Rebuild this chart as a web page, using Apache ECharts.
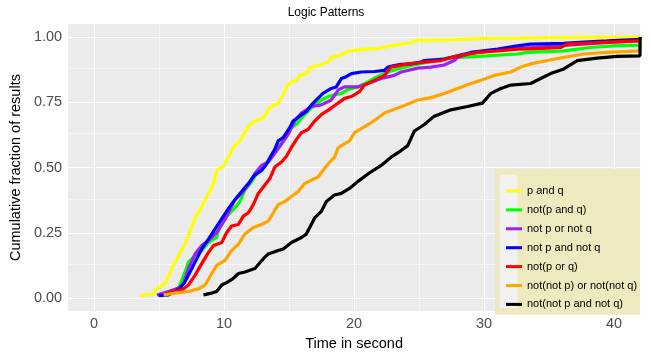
<!DOCTYPE html>
<html>
<head>
<meta charset="utf-8">
<script src="https://cdn.jsdelivr.net/npm/echarts@6/dist/echarts.min.js"></script>
<style>
  html, body { margin: 0; padding: 0; background: #fff; }
  #chart { width: 651px; height: 356px; }
</style>
</head>
<body>
<div id="chart"></div>
<script>
// Cumulative fraction of results over time, one [seconds, fraction] list per pattern
const pAndQ = [[3.55,0.009],[4.58,0.015],[4.70,0.031],[5.08,0.044],[5.47,0.056],[5.98,0.113],[6.50,0.163],[7.00,0.207],[7.38,0.257],[7.77,0.307],[8.28,0.351],[8.80,0.401],[9.18,0.439],[9.43,0.489],[9.95,0.505],[10.33,0.540],[10.71,0.577],[11.22,0.602],[11.60,0.634],[11.99,0.665],[12.37,0.678],[13.01,0.690],[13.40,0.721],[13.65,0.734],[14.16,0.747],[14.54,0.778],[14.80,0.809],[15.18,0.828],[15.57,0.834],[15.82,0.853],[16.33,0.860],[16.59,0.881],[17.23,0.891],[17.99,0.904],[18.25,0.922],[19.02,0.931],[19.53,0.945],[19.79,0.947],[20.8,0.954],[21.83,0.956],[22.85,0.966],[24.39,0.979],[24.9,0.988],[27.2,0.989],[29.75,0.994],[32.3,0.995],[34.9,0.998],[37.4,0.999],[39.98,1.0],[42,1.0]];
const notPAndQ = [[5.35,0.012],[6.5,0.038],[7.0,0.100],[7.26,0.138],[7.77,0.163],[8.28,0.182],[8.8,0.213],[9.43,0.232],[9.56,0.257],[10.07,0.307],[10.71,0.339],[11.22,0.370],[11.6,0.414],[12.12,0.445],[12.5,0.477],[13.14,0.508],[13.65,0.543],[14.16,0.577],[14.67,0.615],[15.18,0.653],[15.57,0.665],[15.95,0.690],[16.46,0.715],[16.97,0.740],[17.48,0.759],[18.0,0.772],[18.5,0.778],[19.02,0.784],[19.53,0.799],[20.3,0.809],[21.07,0.828],[21.57,0.843],[22.6,0.866],[23.37,0.878],[24.39,0.891],[25.67,0.904],[27.2,0.919],[28.09,0.922],[30.27,0.928],[32.57,0.935],[33.33,0.941],[36.14,0.947],[38.17,0.960],[39.98,0.966],[42,0.969],[42,1]];
const notPOrNotQ = [[4.83,0.012],[5.73,0.025],[6.5,0.038],[6.88,0.056],[7.26,0.113],[7.77,0.169],[8.28,0.201],[8.8,0.220],[9.43,0.251],[10.07,0.301],[10.84,0.377],[11.35,0.401],[11.86,0.433],[12.37,0.477],[12.88,0.508],[13.4,0.521],[13.9,0.555],[14.42,0.590],[14.93,0.627],[15.44,0.678],[15.95,0.709],[16.72,0.734],[17.48,0.740],[18.25,0.759],[18.77,0.797],[19.27,0.809],[20.3,0.809],[21.07,0.822],[22.09,0.841],[23.1,0.853],[23.62,0.866],[24.9,0.881],[25.92,0.885],[26.94,0.893],[27.71,0.910],[27.97,0.922],[29.0,0.938],[31.3,0.951],[35.9,0.967],[39.0,0.978],[42,0.986],[42,1]];
const notPAndNotQ = [[4.96,0.009],[5.73,0.012],[6.62,0.038],[7.0,0.063],[7.38,0.100],[7.9,0.151],[8.28,0.188],[8.8,0.226],[9.3,0.264],[9.95,0.314],[10.45,0.351],[10.84,0.377],[11.35,0.408],[11.86,0.439],[12.37,0.471],[12.88,0.489],[13.2,0.508],[13.55,0.540],[13.9,0.570],[14.16,0.602],[14.55,0.615],[15.05,0.653],[15.31,0.678],[15.82,0.697],[16.33,0.715],[16.72,0.740],[17.1,0.759],[17.61,0.784],[18.25,0.803],[18.63,0.809],[19.02,0.841],[19.4,0.848],[19.79,0.860],[20.55,0.866],[21.57,0.868],[22.34,0.872],[22.6,0.885],[23.1,0.891],[23.62,0.895],[24.39,0.897],[25.15,0.904],[25.41,0.910],[26.94,0.916],[27.97,0.928],[28.99,0.941],[31.04,0.954],[32.57,0.966],[33.59,0.973],[36.14,0.976],[37.68,0.981],[39.47,0.985],[42,0.991],[42,1]];
const notPOrQ = [[5.35,0.012],[5.98,0.025],[6.75,0.031],[7.26,0.050],[7.77,0.088],[8.28,0.132],[8.8,0.175],[9.18,0.201],[9.82,0.213],[10.2,0.251],[10.58,0.276],[11.1,0.282],[11.48,0.314],[11.86,0.326],[12.25,0.358],[12.63,0.401],[13.14,0.433],[13.52,0.458],[13.9,0.502],[14.42,0.521],[14.8,0.543],[15.18,0.577],[15.57,0.608],[15.95,0.634],[16.46,0.646],[16.97,0.678],[17.48,0.703],[18.25,0.728],[18.77,0.747],[19.27,0.765],[19.79,0.772],[20.42,0.791],[20.8,0.816],[21.57,0.834],[22.34,0.853],[22.85,0.885],[24.13,0.897],[25.41,0.904],[26.69,0.910],[27.97,0.928],[29.5,0.941],[31.04,0.947],[32.57,0.954],[34.1,0.956],[35.89,0.960],[36.4,0.973],[38.7,0.979],[42,0.985],[42,1]];
const notNotPOrNotNotQ = [[5.35,0.012],[6.23,0.019],[7.26,0.025],[8.03,0.035],[8.54,0.050],[9.05,0.094],[9.43,0.125],[10.07,0.144],[10.58,0.182],[11.1,0.207],[11.6,0.245],[12.25,0.270],[12.88,0.282],[13.4,0.295],[13.78,0.326],[14.16,0.358],[14.67,0.370],[15.18,0.389],[15.7,0.408],[16.2,0.439],[16.72,0.452],[17.23,0.464],[17.61,0.489],[18.0,0.514],[18.5,0.540],[18.75,0.574],[19.02,0.584],[19.65,0.602],[20.04,0.634],[20.68,0.653],[21.32,0.672],[21.83,0.690],[22.34,0.709],[22.98,0.721],[23.87,0.738],[24.9,0.759],[25.92,0.768],[26.94,0.784],[27.97,0.803],[28.99,0.822],[29.75,0.834],[30.77,0.853],[32.06,0.866],[32.82,0.885],[33.59,0.897],[34.87,0.910],[36.14,0.922],[37.68,0.935],[39.47,0.941],[42,0.947],[42,1]];
const notNotPAndNotQ = [[8.41,0.012],[9.05,0.019],[9.43,0.025],[9.82,0.050],[10.33,0.063],[10.71,0.075],[11.1,0.094],[11.6,0.100],[12.37,0.113],[13.14,0.157],[13.4,0.169],[14.16,0.182],[14.55,0.188],[15.18,0.213],[15.95,0.232],[16.33,0.245],[16.97,0.307],[17.48,0.332],[17.87,0.370],[18.5,0.395],[19.02,0.401],[19.65,0.420],[20.3,0.447],[21.2,0.480],[22.09,0.508],[22.85,0.540],[23.62,0.565],[24.13,0.584],[24.64,0.640],[25.41,0.665],[26.17,0.697],[27.45,0.721],[28.73,0.734],[29.88,0.747],[30.52,0.784],[31.29,0.803],[32.06,0.816],[33.59,0.822],[34.36,0.841],[35.12,0.860],[36.14,0.878],[37.17,0.910],[38.7,0.919],[40.24,0.926],[42,0.928],[42,1]];

const seriesNames = ['p and q', 'not(p and q)', 'not p or not q', 'not p and not q',
                     'not(p or q)', 'not(not p) or not(not q)', 'not(not p and not q)'];
const seriesData = [pAndQ, notPAndQ, notPOrNotQ, notPAndNotQ, notPOrQ, notNotPOrNotNotQ, notNotPAndNotQ];
const seriesColors = ['#FFFF00', '#00FF00', '#A020F0', '#0000FF', '#FF0000', '#FFA500', '#000000'];

// Axis ticks and panel grid positions
const xTicks = [0, 10, 20, 30, 40];
const xMinor = [5, 15, 25, 35];
const yTicks = [0, 0.25, 0.5, 0.75, 1];
const yMinor = [0.125, 0.375, 0.625, 0.875];
const xRange = [-2, 42];
const yRange = [-0.05, 1.05];

const FONT = 'Liberation Sans, Arial, sans-serif';
const chart = echarts.init(document.getElementById('chart'), null, { renderer: 'canvas' });

// White panel grid, drawn underneath the curves
const gridLineSeries = {
  type: 'line',
  data: [],
  z: 1,
  silent: true,
  markLine: {
    z: 1,
    silent: true,
    symbol: ['none', 'none'],
    label: { show: false },
    emphasis: { disabled: true },
    animation: false,
    data: [
      ...xMinor.map(v => ({ xAxis: v, lineStyle: { color: '#FFFFFF', width: 0.55, type: 'solid' } })),
      ...yMinor.map(v => ({ yAxis: v, lineStyle: { color: '#FFFFFF', width: 0.55, type: 'solid' } })),
      ...xTicks.map(v => ({ xAxis: v, lineStyle: { color: '#FFFFFF', width: 1.1, type: 'solid' } })),
      ...yTicks.map(v => ({ yAxis: v, lineStyle: { color: '#FFFFFF', width: 1.1, type: 'solid' } }))
    ]
  }
};

const curveSeries = seriesNames.map((name, i) => ({
  name: name,
  type: 'line',
  data: seriesData[i],
  z: 2,
  showSymbol: false,
  symbol: 'none',
  clip: true,
  color: seriesColors[i],
  lineStyle: { color: seriesColors[i], width: 3.2 },
  emphasis: { disabled: true },
  animation: false
}));

chart.setOption({
  animation: false,
  textStyle: { fontFamily: FONT },
  grid: {
    left: 66, right: 11, top: 24, bottom: 41.3,
    show: true, backgroundColor: '#EBEBEB', borderWidth: 0
  },
  xAxis: {
    type: 'value',
    min: xRange[0], max: xRange[1],
    name: 'Time in second',
    nameLocation: 'middle',
    nameGap: 20,
    nameTextStyle: { fontSize: 14.5, color: '#000000', fontFamily: FONT },
    axisLine: { show: false },
    splitLine: { show: false },
    axisTick: { show: true, length: 4, customValues: xTicks, lineStyle: { color: '#333333', width: 1 } },
    axisLabel: { customValues: xTicks, fontSize: 14.5, color: '#4D4D4D', margin: 5, fontFamily: FONT }
  },
  yAxis: {
    type: 'value',
    min: yRange[0], max: yRange[1],
    name: 'Cumulative fraction of results',
    nameLocation: 'middle',
    nameGap: 38,
    nameTextStyle: { fontSize: 14.5, color: '#000000', fontFamily: FONT },
    axisLine: { show: false },
    splitLine: { show: false },
    axisTick: { show: true, length: 4, customValues: yTicks, lineStyle: { color: '#333333', width: 1 } },
    axisLabel: {
      customValues: yTicks, fontSize: 14.5, color: '#4D4D4D', margin: 6, fontFamily: FONT,
      formatter: v => v.toFixed(2)
    }
  },
  legend: {
    orient: 'vertical',
    left: 501, top: 179,
    z: 8,
    itemWidth: 16, itemHeight: 3, itemGap: 4.9,
    icon: 'rect',
    selectedMode: false,
    data: seriesNames,
    textStyle: { fontSize: 11, lineHeight: 14, color: '#000000', fontFamily: FONT }
  },
  graphic: [
    { type: 'text', x: 326, y: 13, z: 10,
      style: { text: 'Logic Patterns', fill: '#000000', font: '12px ' + FONT, align: 'center', verticalAlign: 'middle' } },
    { type: 'rect', x: 495, y: 169, z: 3, silent: true,
      shape: { width: 145, height: 145.7 }, style: { fill: '#EEE9BF' } },
    { type: 'rect', x: 499.5, y: 175, z: 6, silent: true,
      shape: { width: 18, height: 133 }, style: { fill: '#F2F2F2' } }
  ],
  series: [gridLineSeries, ...curveSeries]
});
</script>
</body>
</html>
